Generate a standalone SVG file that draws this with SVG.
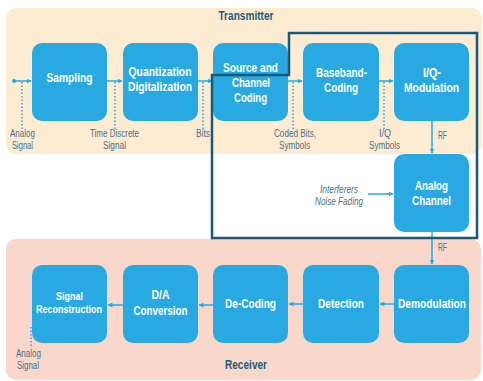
<svg xmlns="http://www.w3.org/2000/svg" width="483" height="381" viewBox="0 0 483 381">
<style>
.box{fill:#29a9e1;}
text{font-family:"Liberation Sans",Arial,sans-serif;}
.bt{font-weight:bold;font-size:12.5px;fill:#ffffff;text-anchor:middle;}
.lbl{font-size:10px;fill:#4c6f86;text-anchor:middle;}
.it{font-style:italic;}
.ttl{font-weight:bold;font-size:13.5px;fill:#1d5a79;text-anchor:middle;}
.ar{stroke:#29a9e1;stroke-width:1.5;fill:none;marker-end:url(#ah);}
.dt{stroke:#29a9e1;stroke-width:1.5;fill:none;stroke-dasharray:1.5,2;}
</style>
<defs>
<marker id="ah" viewBox="0 0 10 10" refX="9" refY="5" markerWidth="5" markerHeight="5" orient="auto" markerUnits="userSpaceOnUse"><path d="M0,0 L10,5 L0,10 Z" fill="#29a9e1"/></marker>
</defs>
<rect id="transmitter-band" x="6" y="8" width="476" height="146" rx="10" fill="#fdebd2"/>
<rect id="receiver-band" x="6" y="239" width="475" height="141" rx="10" fill="#fad7cb"/>
<text class="ttl" x="246" y="20" textLength="55" lengthAdjust="spacingAndGlyphs">Transmitter</text>
<text class="ttl" x="246" y="369" textLength="42" lengthAdjust="spacingAndGlyphs">Receiver</text>
<g id="connectors">
<circle cx="14" cy="81" r="2" fill="#29a9e1"/>
<line class="ar" x1="14" y1="81" x2="31" y2="81"/>
<line class="dt" x1="22" y1="82" x2="22" y2="130"/>
<line class="ar" x1="107" y1="81" x2="122" y2="81"/>
<line class="dt" x1="115" y1="82" x2="115" y2="130"/>
<line class="ar" x1="198" y1="81" x2="212" y2="81"/>
<line class="dt" x1="203" y1="82" x2="203" y2="130"/>
<line class="ar" x1="288" y1="81" x2="302" y2="81"/>
<line class="dt" x1="293" y1="82" x2="293" y2="130"/>
<line class="ar" x1="379" y1="81" x2="393" y2="81"/>
<line class="dt" x1="384" y1="82" x2="384" y2="130"/>
<line class="ar" x1="432" y1="121" x2="432" y2="153"/>
<line class="ar" x1="368" y1="194" x2="393" y2="194"/>
<line class="ar" x1="432" y1="232" x2="432" y2="264"/>
<line class="ar" x1="394" y1="304" x2="380" y2="304"/>
<line class="ar" x1="303" y1="304" x2="289" y2="304"/>
<line class="ar" x1="213" y1="305" x2="199" y2="305"/>
<line class="ar" x1="123" y1="305" x2="108" y2="305"/>
<line class="dt" x1="31" y1="327" x2="31" y2="347"/>
</g>
<g id="sampling"><rect class="box" x="32" y="43" width="75" height="78" rx="10"/><text class="bt" x="69.5" y="82" textLength="46" lengthAdjust="spacingAndGlyphs">Sampling</text></g>
<g id="quantization"><rect class="box" x="123" y="43" width="75" height="78" rx="10"/><text class="bt" x="160" y="76" textLength="63" lengthAdjust="spacingAndGlyphs">Quantization</text><text class="bt" x="160" y="91" textLength="64" lengthAdjust="spacingAndGlyphs">Digitalization</text></g>
<g id="source-coding"><rect class="box" x="213" y="43" width="75" height="78" rx="10"/><text class="bt" x="250.5" y="72" textLength="55" lengthAdjust="spacingAndGlyphs">Source and</text><text class="bt" x="251" y="87" textLength="38" lengthAdjust="spacingAndGlyphs">Channel</text><text class="bt" x="250.5" y="102" textLength="33" lengthAdjust="spacingAndGlyphs">Coding</text></g>
<g id="baseband-coding"><rect class="box" x="303" y="43" width="76" height="78" rx="10"/><text class="bt" x="341.5" y="77" textLength="51" lengthAdjust="spacingAndGlyphs">Baseband-</text><text class="bt" x="341" y="92" textLength="34" lengthAdjust="spacingAndGlyphs">Coding</text></g>
<g id="iq-modulation"><rect class="box" x="394" y="43" width="75" height="78" rx="10"/><text class="bt" x="432" y="77" textLength="18" lengthAdjust="spacingAndGlyphs">I/Q-</text><text class="bt" x="431.5" y="92" textLength="55" lengthAdjust="spacingAndGlyphs">Modulation</text></g>
<g id="analog-channel"><rect class="box" x="394" y="154" width="75" height="78" rx="10"/><text class="bt" x="431.5" y="190" textLength="33" lengthAdjust="spacingAndGlyphs">Analog</text><text class="bt" x="431.5" y="205" textLength="39" lengthAdjust="spacingAndGlyphs">Channel</text></g>
<g id="demodulation"><rect class="box" x="394" y="265" width="75" height="78" rx="10"/><text class="bt" x="432" y="308" textLength="68" lengthAdjust="spacingAndGlyphs">Demodulation</text></g>
<g id="detection"><rect class="box" x="303" y="265" width="76" height="78" rx="10"/><text class="bt" x="341" y="308" textLength="46" lengthAdjust="spacingAndGlyphs">Detection</text></g>
<g id="de-coding"><rect class="box" x="213" y="265" width="75" height="78" rx="10"/><text class="bt" x="250.5" y="308" textLength="51" lengthAdjust="spacingAndGlyphs">De-Coding</text></g>
<g id="da-conversion"><rect class="box" x="123" y="265" width="75" height="78" rx="10"/><text class="bt" x="160.5" y="299" textLength="18" lengthAdjust="spacingAndGlyphs">D/A</text><text class="bt" x="160.5" y="315" textLength="54" lengthAdjust="spacingAndGlyphs">Conversion</text></g>
<g id="signal-reconstruction"><rect class="box" x="32" y="265" width="75" height="78" rx="10"/><text class="bt" x="69.5" y="300" style="font-size:11px" textLength="27" lengthAdjust="spacingAndGlyphs">Signal</text><text class="bt" x="69" y="313" style="font-size:11px" textLength="66" lengthAdjust="spacingAndGlyphs">Reconstruction</text></g>
<g id="labels">
<text class="lbl" x="22.5" y="137" textLength="25" lengthAdjust="spacingAndGlyphs">Analog</text><text class="lbl" x="22.5" y="149" textLength="21" lengthAdjust="spacingAndGlyphs">Signal</text>
<text class="lbl" x="114.5" y="137" textLength="49" lengthAdjust="spacingAndGlyphs">Time Discrete</text><text class="lbl" x="114.5" y="149" textLength="23" lengthAdjust="spacingAndGlyphs">Signal</text>
<text class="lbl" x="203" y="137" textLength="14" lengthAdjust="spacingAndGlyphs">Bits</text>
<text class="lbl" x="295" y="137" textLength="42" lengthAdjust="spacingAndGlyphs">Coded Bits,</text><text class="lbl" x="294.5" y="149" textLength="31" lengthAdjust="spacingAndGlyphs">Symbols</text>
<text class="lbl" x="385" y="137" textLength="12" lengthAdjust="spacingAndGlyphs">I/Q</text><text class="lbl" x="384.5" y="149" textLength="31" lengthAdjust="spacingAndGlyphs">Symbols</text>
<text class="lbl" x="442.5" y="139" textLength="9" lengthAdjust="spacingAndGlyphs">RF</text>
<text class="lbl" x="442.5" y="251" textLength="9" lengthAdjust="spacingAndGlyphs">RF</text>
<text class="lbl it" x="339" y="193" textLength="38" lengthAdjust="spacingAndGlyphs">Interferers</text><text class="lbl it" x="339" y="205" textLength="48" lengthAdjust="spacingAndGlyphs">Noise Fading</text>
<text class="lbl" x="28.5" y="357" textLength="25" lengthAdjust="spacingAndGlyphs">Analog</text><text class="lbl" x="28" y="369" textLength="22" lengthAdjust="spacingAndGlyphs">Signal</text>
</g>
<path id="channel-frame" d="M212,238 L212,75 L289,75 L289,33 L477,33 L477,238 Z" fill="none" stroke="#1b5878" stroke-width="2.5"/>
</svg>
